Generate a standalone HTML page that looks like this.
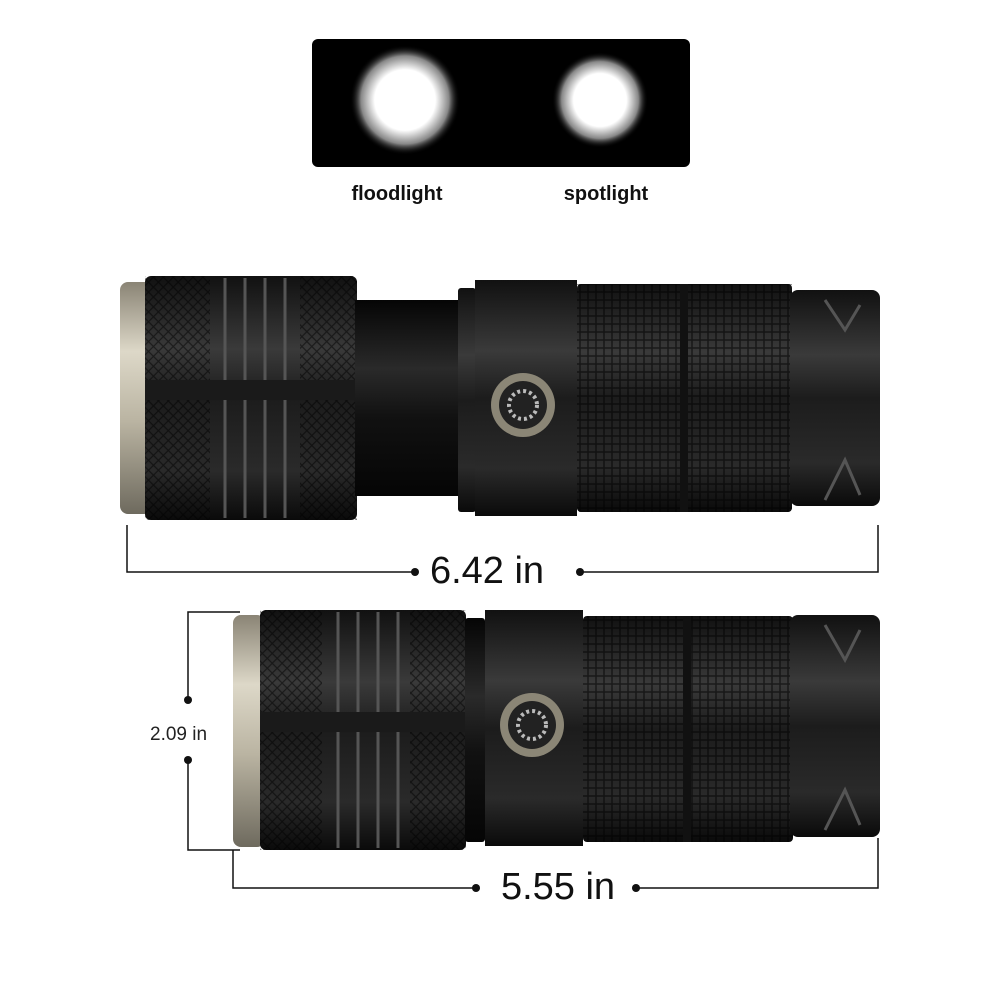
<!DOCTYPE html>
<html><head><meta charset="utf-8"><style>
html,body{margin:0;padding:0;background:#fff}
svg{display:block}
text{font-family:"Liberation Sans",sans-serif}
</style></head><body>
<svg width="1000" height="1000" viewBox="0 0 1000 1000" xmlns="http://www.w3.org/2000/svg">
<defs>
<radialGradient id="glow" cx="50%" cy="50%" r="50%">
<stop offset="0" stop-color="#fff"/><stop offset="0.55" stop-color="#fff"/><stop offset="0.8" stop-color="#888"/><stop offset="1" stop-color="#000" stop-opacity="0"/></radialGradient>
<linearGradient id="body" x1="0" y1="0" x2="0" y2="1">
<stop offset="0" stop-color="#111"/><stop offset="0.3" stop-color="#3a3a3a"/><stop offset="0.5" stop-color="#1c1c1c"/><stop offset="0.8" stop-color="#2a2a2a"/><stop offset="1" stop-color="#0a0a0a"/></linearGradient>
<linearGradient id="neck" x1="0" y1="0" x2="0" y2="1">
<stop offset="0" stop-color="#050505"/><stop offset="0.35" stop-color="#2a2a2a"/><stop offset="0.6" stop-color="#111"/><stop offset="1" stop-color="#050505"/></linearGradient>
<linearGradient id="bez" x1="0" y1="0" x2="0" y2="1">
<stop offset="0" stop-color="#8a8475"/><stop offset="0.3" stop-color="#ddd8c8"/><stop offset="0.6" stop-color="#bab4a2"/><stop offset="1" stop-color="#6e6a5e"/></linearGradient>
<pattern id="knurl" width="8" height="8" patternUnits="userSpaceOnUse">
<rect width="8" height="8" fill="none"/><path d="M0 4H8M4 0V8" stroke="#000" stroke-opacity="0.55" stroke-width="1.5"/></pattern>
<pattern id="diam" width="7" height="7" patternUnits="userSpaceOnUse" patternTransform="rotate(45)">
<path d="M0 3.5H7M3.5 0V7" stroke="#000" stroke-opacity="0.5" stroke-width="1.2"/></pattern>
</defs>
<rect x="312" y="39" width="378" height="128" rx="6" fill="#000"/>
<circle cx="405" cy="100" r="55" fill="url(#glow)"/>
<circle cx="600" cy="100" r="48" fill="url(#glow)"/>
<text x="397" y="200" font-size="20" font-weight="bold" text-anchor="middle" fill="#111">floodlight</text>
<text x="606" y="200" font-size="20" font-weight="bold" text-anchor="middle" fill="#111">spotlight</text>

<rect x="120" y="282" width="32" height="232" rx="8" fill="url(#bez)"/>
<rect x="145" y="276" width="212" height="244" rx="6" fill="url(#body)"/>
<rect x="145" y="276" width="212" height="244" fill="url(#diam)"/>
<rect x="210" y="276" width="90" height="244" fill="url(#body)"/>
<g stroke="#555" stroke-width="3"><line x1="225" y1="278" x2="225" y2="518"/><line x1="245" y1="278" x2="245" y2="518"/><line x1="265" y1="278" x2="265" y2="518"/><line x1="285" y1="278" x2="285" y2="518"/></g>
<rect x="145" y="380" width="212" height="20" fill="#1a1a1a"/>
<rect x="355" y="300" width="105" height="196" fill="url(#neck)"/>
<rect x="458" y="288" width="18" height="224" rx="3" fill="url(#body)"/>
<rect x="475" y="280" width="102" height="236" fill="url(#body)"/>
<circle cx="523" cy="405" r="32" fill="#8b8676"/><circle cx="523" cy="405" r="24" fill="#222"/><circle cx="523" cy="405" r="14" fill="none" stroke="#bbb" stroke-width="4" stroke-dasharray="3 3"/>
<rect x="577" y="284" width="215" height="228" rx="4" fill="url(#body)"/>
<rect x="577" y="284" width="215" height="228" fill="url(#knurl)"/>
<rect x="680" y="284" width="8" height="228" fill="#111"/>
<rect x="790" y="290" width="90" height="216" rx="8" fill="url(#body)"/>
<path d="M825 300 L845 330 L860 305 M825 500 L845 460 L860 495" stroke="#555" stroke-width="3" fill="none"/>

<g stroke="#111" stroke-width="1.5" fill="none">
<polyline points="127,525 127,572 415,572"/><polyline points="580,572 878,572 878,525"/></g>
<circle cx="415" cy="572" r="4" fill="#111"/><circle cx="580" cy="572" r="4" fill="#111"/>
<text x="487" y="583" font-size="38" text-anchor="middle" fill="#111">6.42 in</text>

<rect x="233" y="615" width="32" height="232" rx="8" fill="url(#bez)"/>
<rect x="260" y="610" width="206" height="240" rx="6" fill="url(#body)"/>
<rect x="260" y="610" width="206" height="240" fill="url(#diam)"/>
<rect x="322" y="610" width="88" height="240" fill="url(#body)"/>
<g stroke="#555" stroke-width="3"><line x1="338" y1="612" x2="338" y2="848"/><line x1="358" y1="612" x2="358" y2="848"/><line x1="378" y1="612" x2="378" y2="848"/><line x1="398" y1="612" x2="398" y2="848"/></g>
<rect x="260" y="712" width="206" height="20" fill="#1a1a1a"/>
<rect x="465" y="618" width="20" height="224" rx="3" fill="url(#neck)"/>
<rect x="485" y="610" width="98" height="236" fill="url(#body)"/>
<circle cx="532" cy="725" r="32" fill="#8b8676"/><circle cx="532" cy="725" r="24" fill="#222"/><circle cx="532" cy="725" r="14" fill="none" stroke="#bbb" stroke-width="4" stroke-dasharray="3 3"/>
<rect x="583" y="616" width="210" height="226" rx="4" fill="url(#body)"/>
<rect x="583" y="616" width="210" height="226" fill="url(#knurl)"/>
<rect x="683" y="616" width="8" height="226" fill="#111"/>
<rect x="790" y="615" width="90" height="222" rx="8" fill="url(#body)"/>
<path d="M825 625 L845 660 L860 630 M825 830 L845 790 L860 825" stroke="#555" stroke-width="3" fill="none"/>

<g stroke="#111" stroke-width="1.5" fill="none">
<polyline points="240,612 188,612 188,700"/><polyline points="188,760 188,850 240,850"/>
<polyline points="233,850 233,888 476,888"/><polyline points="636,888 878,888 878,838"/></g>
<circle cx="188" cy="700" r="4" fill="#111"/><circle cx="188" cy="760" r="4" fill="#111"/>
<circle cx="476" cy="888" r="4" fill="#111"/><circle cx="636" cy="888" r="4" fill="#111"/>
<text x="150" y="740" font-size="19" fill="#222">2.09 in</text>
<text x="558" y="899" font-size="38" text-anchor="middle" fill="#111">5.55 in</text>
</svg>
</body></html>
